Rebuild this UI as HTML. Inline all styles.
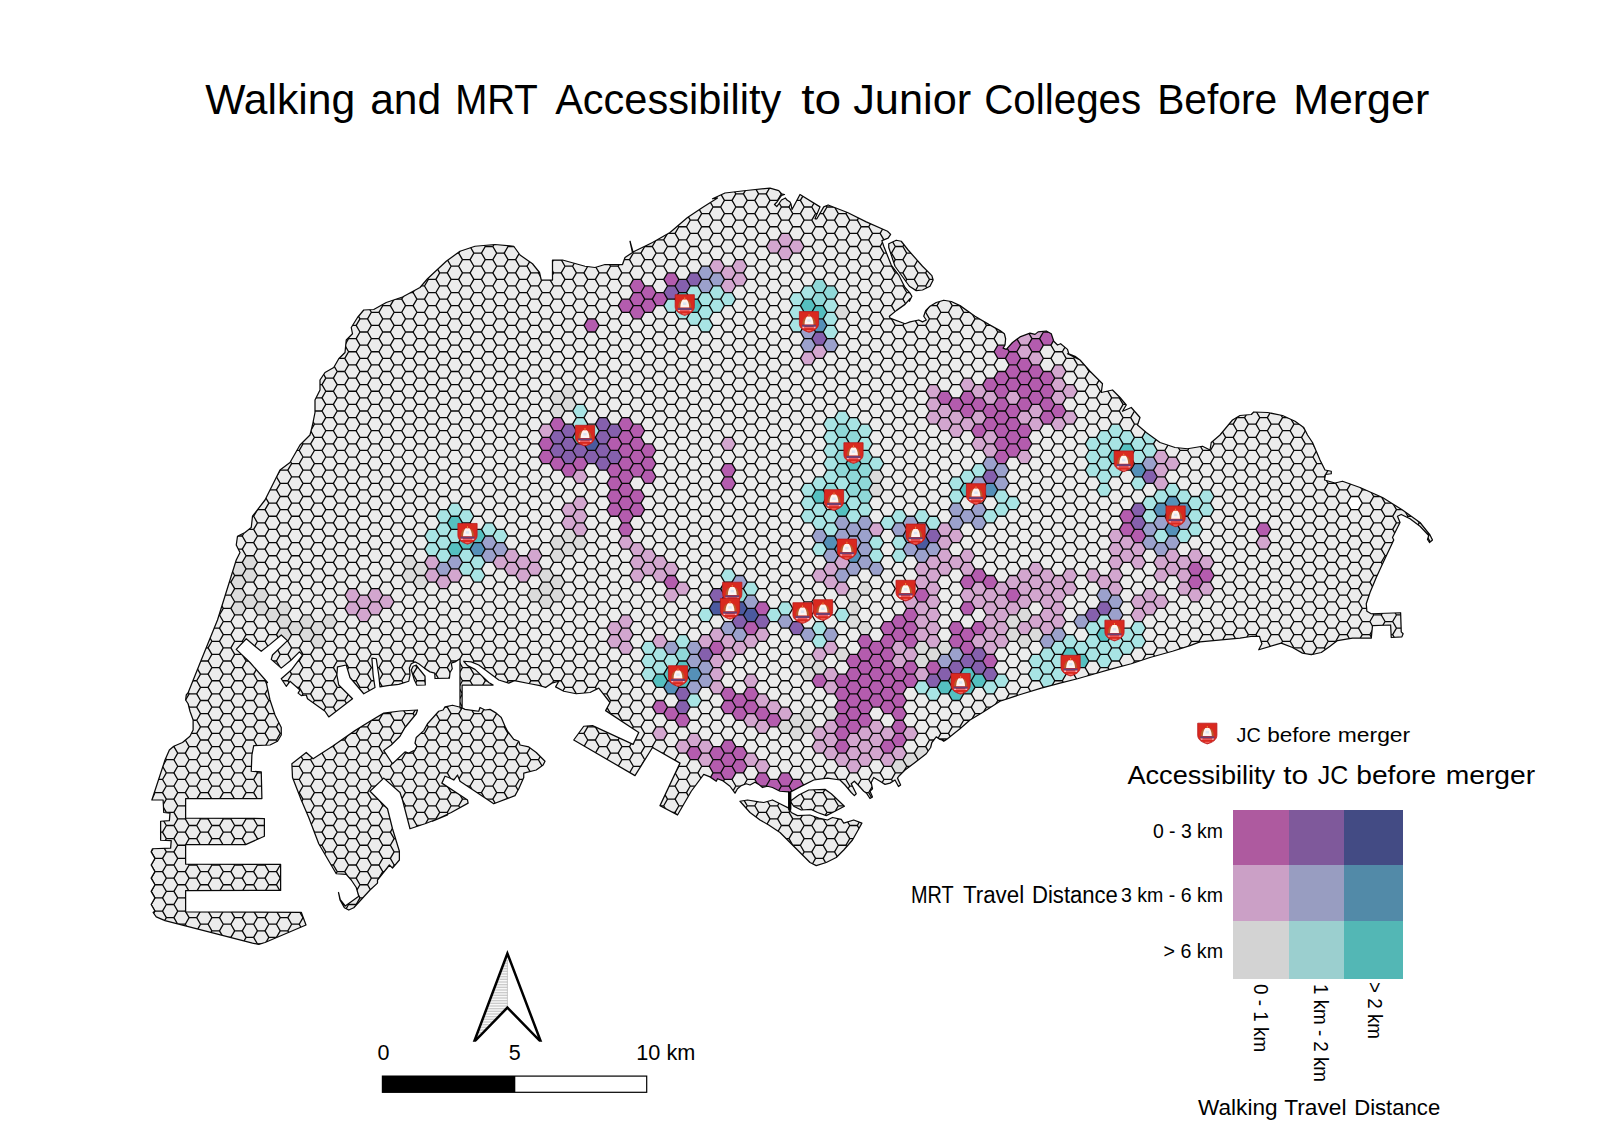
<!DOCTYPE html>
<html lang="en"><head><meta charset="utf-8"><title>Walking and MRT Accessibility to Junior Colleges Before Merger</title>
<style>
html,body{margin:0;padding:0;background:#fff}
body{width:1600px;height:1131px;overflow:hidden;font-family:"Liberation Sans",sans-serif}
svg{display:block}
text{font-family:"Liberation Sans",sans-serif;fill:#000}
</style></head><body>
<svg width="1600" height="1131" viewBox="0 0 1600 1131">
<rect width="1600" height="1131" fill="#fff"/>

<defs><clipPath id="land"><path d="M320 380L325 372.5L333.75 367.5L338.75 358.75L345 352.5L346.25 340L352.5 333.75L351.25 327.5L357.5 317.5L363.75 310L373.75 309.5L386.25 302.5L402.5 297L420 287.5L427.5 278.75L446.25 261.25L460 251.25L475 246.25L495 244.5L513.75 246.25L520 255L532.5 263.75L539.5 272.5L541.25 280L552.5 280L552.5 260L562.5 260L585 266.25L595 267.5L605 264.5L622.5 264.5L625 257.5L632.5 252.5L630 241.25L633 252L652.5 242.5L670 232.5L687.5 217.5L702.5 207.5L717.5 198L712.5 198.75L725 193L746.25 190.5L770 188.12L778.75 190.62L781.5 193.75L784.5 194.5L781.5 195.5L777 202L774.5 204.5L776.75 206.5L779 203.5L781.5 200L785.5 198L787 200L790 202L791 204L792 209.5L800 194.5L820 206.88L815 218.75L816.88 218.75L823.75 206.88L828.12 205L847.5 212.5L866.25 221.88L887.5 231.25L890.62 234.38L888.12 238.12L881.88 240.62L883.75 246.25L891.25 265L898.75 275L905 287.5L910 293.12L911.88 296.25L909.38 301.25L910 298.75L905 304.38L896.25 310.62L889.38 316.25L890 318.12L905 323.75L910 321.88L918.75 320L922.5 321.88L926.25 320L923.75 316.25L925.62 310.62L930 306.25L936.25 302.5L943.75 300.25L951.25 301.5L960 305.62L975 316.25L988.75 324.38L1000 330.62L1004.38 333.75L1005.62 338.75L1005 345L1003.12 348.12L1006.25 349.38L1012.5 342.5L1020 336.88L1030 333.12L1035 334.38L1038.12 331.88L1046.25 331L1051.25 333.75L1053.75 341.25L1057.5 345L1060.62 343.75L1067.5 349.38L1068.75 353.75L1075 356.25L1080 360L1067.5 353.75L1080 360L1090 371.25L1102.5 383.75L1101.25 392.5L1112.5 390L1120 397.5L1126.25 405L1122.5 411.25L1131.25 407.5L1140 417.5L1137.5 425L1146.25 432.5L1160 442.5L1175 447.5L1187.5 448.75L1202.5 446.25L1210 450L1211.25 442.5L1220 435L1226.25 427.5L1232.5 420L1240 415.5L1251.25 414.5L1253.75 412L1267.5 412.5L1282.5 415.5L1295 421.25L1303.75 427.5L1307.5 435L1312.5 442.5L1320 460L1325 470L1331.25 471.25L1331.25 473.75L1325.5 474.5L1324.5 480L1335 483L1342.5 481.25L1360 487.5L1382.5 497.5L1402.5 510L1420 522.5L1430 535L1432.5 540L1429.5 542.5L1427.5 539.5L1428.75 535.5L1420 526.25L1410 518.75L1401.25 514.5L1397.5 516.25L1400 522.5L1392.5 537.5L1393.75 540L1383.75 561.25L1376.25 577.5L1370 592.5L1366.25 603.75L1366.88 611.25L1371.25 613.75L1400.62 612.75L1401.25 631.88L1403.12 633.75L1401.88 636.88L1391.25 637.5L1390.62 625L1372.5 625.62L1371.25 638.12L1352.5 638.12L1337.5 640.62L1330 646.25L1321.25 652.5L1311.25 654.75L1302.5 653.12L1292.5 647.5L1281.25 643.12L1258.75 649.75L1261.88 643.75L1259.38 636.25L1252.5 636.25L1240 638.12L1200 641.88L1190 645.62L1172.5 651.25L1150 657.5L1131.25 663.75L1110 669.38L1095 673.75L1077.5 678.75L1060 683.12L1041.25 688.12L1018.75 695L1000 701.25L1000 701.25L982.5 712.5L970 720L960 728.75L947.5 738.75L943.75 741.25L940 738.75L947.5 738.75L945 740.62L940 739.38L936.25 736.88L931.88 742.5L930.62 747.5L926.25 753.75L915 762.5L905 770L898.75 776.25L897.5 778.12L900.62 785L898.5 786.5L895 780L890 783.12L885 784.38L880 781.25L873.75 777.5L871.25 782.5L872.5 788.75L870 791.25L872.5 796.88L870 798.5L866.5 793.12L863.75 791.25L858.12 785L854.38 781.25L851.25 783.75L856.25 793.75L854.38 795.62L851.25 792.5L845 785L840 780L827.5 778.12L827.5 778.12L813.75 780L802.5 785.62L790.62 791.88L790.62 808.75L788.75 808.75L788.75 791.88L780 791.25L772.5 787.5L767.5 786.25L762.5 787.5L758.75 784.38L755 782.25L750 785L746.25 783.75L741.25 785.62L737.5 788.75L735 793.12L730 786.25L722.5 780.62L717.5 778.75L716.25 781.25L710 776.88L703.75 774.38L691.25 791.25L677.5 815L660 805.62L680 763.12L652.5 747.5L635 775.62L573.75 740L583.75 726.25L592.5 725.62L633.12 744.38L638.75 732.5L605.62 710.62L610 702.5L598.75 688.12L590 692.5L576.25 693.75L563.75 691.25L555.62 686.88L558.75 681.25L551.88 683.12L545.62 687.5L540 685.62L530 683.75L514.38 680.62L508.75 683.12L498.75 680L488.75 672.5L478.75 665L471.25 661.88L463.75 661.25L467.5 665.62L475 669.38L488.75 682.5L493.12 685L462.12 685L462.12 708.12L460 708.12L460 661.88L460 658.75L455 661.88L451.25 663.12L452.25 668.75L450 672.5L449.38 678.12L435 678.5L434.75 673.12L430 671.88L424.38 668.12L418.75 663.75L415 661.88L411.25 663.75L409.38 668.12L410 675L408.75 681.25L398.75 684.38L387.5 685.62L380 686.88L380 686.88L378.75 675L376.25 658.75L371.88 658.12L373.12 675L375 687.5L363.75 693.75L350 677.5L346.25 665L337.5 666.88L336.88 675L338.75 685L352.5 698.75L328.75 716.88L325 711.25L307.5 698.75L306.25 695L301.25 695.62L298.12 693.12L300 690L290 681.25L286.25 686.25L281.25 678.75L291.25 670L302.5 655L299.38 651.88L291.25 660L281.25 668.12L271.25 659.38L272.5 655L287.5 640.62L281.25 635L270 644.38L261.25 651.25L255 646.25L246.25 638.75L236.25 649.38L250 662.5L267.5 682.5L266.25 682.5L270 700L275 715L281.25 727.5L281.25 735L277.5 741.25L270 745L253.75 745.62L251.88 755L251.25 771.25L261.25 771.88L261.88 798.12L261.88 798.5L185.62 798.5L185.62 818.12L264.38 818.5L264.38 836.25L245.62 844.62L185.62 844.62L185.62 864L280.62 864.38L280.62 890.38L185.62 890.62L185.62 911.88L185.62 911.88L301.25 912.25L306 925L265 942.5L258.75 944.38L252.5 943.12L165 920.62L156.25 916.88L153.12 912.5L154.95 911.06L151.16 904.48L154.95 897.9L151.16 891.32L154.95 884.74L151.16 878.16L154.95 871.58L151.16 865L154.95 858.42L151.16 851.84L152.5 848.75L170.62 848.12L171.25 840.62L160.62 840.25L160.62 821.25L169.38 820.62L170 813.12L163.75 812.5L163.12 800L151.88 799.75L154.38 793.75L151.88 800L165 760L169.38 750L173.75 746.25L182.5 742.5L190 736.25L193.12 730L193.12 720L190 711.25L188.12 703.75L185.62 700L186.25 695L188.12 692.75L201.25 660L217.5 620L230 580L236.25 560L240 552.5L236.25 545L237.5 536.25L245 532.5L251.25 527.5L252.5 516.25L265 500L272.5 485L280 470L290 462.5L300 445L310 435L312.5 425L315 412.5L315 400L320 390ZM888.75 243.75L896.25 240.25L901.25 241.25L908.12 250L922.5 266.25L931.88 275.62L933.12 280L930 286.25L922.5 290L916.25 290.62L909.38 286.25L901.25 275L895 266.25L888.75 247.5ZM291.88 763.75L306.25 752.5L313.12 758.75L332.5 746.25L355 730.62L370 721.25L383.75 713.12L400 711L417.5 710L416.25 713.75L405 727.5L400 736.25L391.25 745L383.75 750.62L392.5 763.75L405 751.88L408.75 753.12L415 750L416.88 746.25L415 743.12L416.25 737.5L423.75 730.62L427.5 723.75L438.75 711.25L443.12 710L445 706.88L452.5 705.25L461.25 707.5L465 709.38L473.75 710.62L478.75 711.25L480 707.5L485 710L490 709.38L496.25 713.12L501.25 717.5L505 726.25L507.5 731.25L513.75 739.38L518.75 741.25L520 745L528.75 746.88L536.25 752.5L545 761.25L543.12 765L536.25 770L523.75 773.12L523.75 777.5L518.75 788.75L515 795.62L493.75 803.75L490 801.25L460 781.25L457.5 775L453.75 780L448.75 777.5L445 776.25L441.88 783.12L467.5 800L468.12 803.12L451.25 812.5L432.5 821.25L447.5 815L425 823.75L410 828.75L402.5 800L400 792.5L383.75 778.12L370 791.25L386.25 807.5L387.5 808.75L392.5 828.75L399.38 851.25L399.38 860L392.5 868.12L389.38 865L387.5 867.5L377.5 880L377.5 883.12L370 890L353.75 907.75L348.75 910L344.38 907.75L340 900L338.5 892.5L340.25 899.75L345.25 906L358.75 896.25L356.25 887.5L351.25 880L346.25 874.38L336.25 873.75L318.75 843.75L308.75 817.5L301.25 800L292.5 777.5ZM416.25 665L420 670L425 676.25L425.25 685L416.88 685.25L414.38 680L411.25 670L413.12 666.25ZM791.25 800.62L798.75 795L808.75 790L825 789.38L831.25 793.75L844.38 806.25L835 811.25L826.25 815.62L817.5 812.5L811.25 809.38L801.25 810L793.75 806.25L790.62 801.88ZM740 801.25L747.5 800L758.75 801.88L763.75 802.5L772.5 800L780 803.75L788.75 808.12L791.25 812.5L797.5 815.62L810 815L818.75 818.12L827.5 820L832.5 817.5L841.25 819.38L843.75 823.12L853.75 820L861.88 823.12L858.12 830L852.5 840L843.75 850L836.25 857.5L826.25 862.5L816.25 865.62L810 862.5L801.25 853.75L790 842.5L780 832.5L768.75 825L760 820L750 812.5Z" clip-rule="nonzero"/></clipPath><path id="hx" d="M-7.59 0L-3.8 -6.58L3.8 -6.58L7.59 0L3.8 6.58L-3.8 6.58Z"/><path id="zz" d="M0 0h7.59m-7.59 0l-3.8 6.58l3.8 6.58h7.59m-7.59 0l-3.8 6.58l3.8 6.58h7.59m-7.59 0l-3.8 6.58l3.8 6.58h7.59m-7.59 0l-3.8 6.58l3.8 6.58h7.59m-7.59 0l-3.8 6.58l3.8 6.58h7.59m-7.59 0l-3.8 6.58l3.8 6.58h7.59m-7.59 0l-3.8 6.58l3.8 6.58h7.59m-7.59 0l-3.8 6.58l3.8 6.58h7.59m-7.59 0l-3.8 6.58l3.8 6.58h7.59m-7.59 0l-3.8 6.58l3.8 6.58h7.59m-7.59 0l-3.8 6.58l3.8 6.58h7.59m-7.59 0l-3.8 6.58l3.8 6.58h7.59m-7.59 0l-3.8 6.58l3.8 6.58h7.59m-7.59 0l-3.8 6.58l3.8 6.58h7.59m-7.59 0l-3.8 6.58l3.8 6.58h7.59m-7.59 0l-3.8 6.58l3.8 6.58h7.59m-7.59 0l-3.8 6.58l3.8 6.58h7.59m-7.59 0l-3.8 6.58l3.8 6.58h7.59m-7.59 0l-3.8 6.58l3.8 6.58h7.59m-7.59 0l-3.8 6.58l3.8 6.58h7.59m-7.59 0l-3.8 6.58l3.8 6.58h7.59m-7.59 0l-3.8 6.58l3.8 6.58h7.59m-7.59 0l-3.8 6.58l3.8 6.58h7.59m-7.59 0l-3.8 6.58l3.8 6.58h7.59m-7.59 0l-3.8 6.58l3.8 6.58h7.59m-7.59 0l-3.8 6.58l3.8 6.58h7.59m-7.59 0l-3.8 6.58l3.8 6.58h7.59m-7.59 0l-3.8 6.58l3.8 6.58h7.59m-7.59 0l-3.8 6.58l3.8 6.58h7.59m-7.59 0l-3.8 6.58l3.8 6.58h7.59m-7.59 0l-3.8 6.58l3.8 6.58h7.59m-7.59 0l-3.8 6.58l3.8 6.58h7.59m-7.59 0l-3.8 6.58l3.8 6.58h7.59m-7.59 0l-3.8 6.58l3.8 6.58h7.59m-7.59 0l-3.8 6.58l3.8 6.58h7.59m-7.59 0l-3.8 6.58l3.8 6.58h7.59m-7.59 0l-3.8 6.58l3.8 6.58h7.59m-7.59 0l-3.8 6.58l3.8 6.58h7.59m-7.59 0l-3.8 6.58l3.8 6.58h7.59m-7.59 0l-3.8 6.58l3.8 6.58h7.59m-7.59 0l-3.8 6.58l3.8 6.58h7.59m-7.59 0l-3.8 6.58l3.8 6.58h7.59m-7.59 0l-3.8 6.58l3.8 6.58h7.59m-7.59 0l-3.8 6.58l3.8 6.58h7.59m-7.59 0l-3.8 6.58l3.8 6.58h7.59m-7.59 0l-3.8 6.58l3.8 6.58h7.59m-7.59 0l-3.8 6.58l3.8 6.58h7.59m-7.59 0l-3.8 6.58l3.8 6.58h7.59m-7.59 0l-3.8 6.58l3.8 6.58h7.59m-7.59 0l-3.8 6.58l3.8 6.58h7.59m-7.59 0l-3.8 6.58l3.8 6.58h7.59m-7.59 0l-3.8 6.58l3.8 6.58h7.59m-7.59 0l-3.8 6.58l3.8 6.58h7.59m-7.59 0l-3.8 6.58l3.8 6.58h7.59m-7.59 0l-3.8 6.58l3.8 6.58h7.59m-7.59 0l-3.8 6.58l3.8 6.58h7.59m-7.59 0l-3.8 6.58l3.8 6.58h7.59m-7.59 0l-3.8 6.58l3.8 6.58h7.59m-7.59 0l-3.8 6.58l3.8 6.58h7.59m-7.59 0l-3.8 6.58l3.8 6.58h7.59m-7.59 0l-3.8 6.58l3.8 6.58"/>
<g id="jc"><path d="M-9.6 -10.3H9.6V1.6C9.6 6.4 5.2 8.9 0 10.4C-5.2 8.9 -9.6 6.4 -9.6 1.6Z" fill="#d9291f" stroke="#b9191d" stroke-width="0.8"/>
<path d="M-6.6 2.4C-6.4 -1.2 -5.2 -3.6 -3.6 -4.9L-2.2 -3.6C-3.6 -2 -4.2 0 -4.3 2.4ZM6.6 2.4C6.4 -1.2 5.2 -3.6 3.6 -4.9L2.2 -3.6C3.6 -2 4.2 0 4.3 2.4Z" fill="#b85a2a"/>
<path d="M-4.5 2.5C-4.3 -1.6 -3 -4.6 -1.9 -5.4H1.9C3 -4.6 4.3 -1.6 4.5 2.5Z" fill="#fdf4ef"/>
<path d="M-0.5 -7.6H0.5V-5.4H-0.5Z" fill="#e8873a"/>
<rect x="-1.7" y="-2.6" width="3.4" height="2.6" fill="#dde6f2"/>
<path d="M-7 2.9H7V4.9H-7Z" fill="#6b3f74"/><path d="M-7 4.9H-4.6V6.3H-6.2ZM7 4.9H4.6V6.3H6.2Z" fill="#f6b4c0"/><path d="M-4.6 5.2H4.6V6.2H-4.6Z" fill="#ef6a72"/>
<path d="M-2.8 8.2H2.8L1.6 9.4H-1.6Z" fill="#f0625a"/></g>
</defs>

<g clip-path="url(#land)">
<rect x="140" y="170" width="1320" height="790" fill="#ececec"/>
<g fill="#dbdbdb">
<use href="#hx" x="238.48" y="568.9"/>
<use href="#hx" x="238.48" y="582.06"/>
<use href="#hx" x="238.48" y="595.22"/>
<use href="#hx" x="238.48" y="608.38"/>
<use href="#hx" x="249.87" y="562.32"/>
<use href="#hx" x="249.87" y="575.48"/>
<use href="#hx" x="249.87" y="601.8"/>
<use href="#hx" x="261.26" y="595.22"/>
<use href="#hx" x="261.26" y="608.38"/>
<use href="#hx" x="272.65" y="614.96"/>
<use href="#hx" x="284.04" y="608.38"/>
<use href="#hx" x="284.04" y="621.54"/>
<use href="#hx" x="284.04" y="634.7"/>
<use href="#hx" x="295.43" y="628.12"/>
<use href="#hx" x="306.82" y="621.54"/>
<use href="#hx" x="306.82" y="634.7"/>
<use href="#hx" x="318.21" y="628.12"/>
<use href="#hx" x="318.21" y="641.28"/>
<use href="#hx" x="329.6" y="621.54"/>
<use href="#hx" x="409.33" y="562.32"/>
<use href="#hx" x="409.33" y="575.48"/>
<use href="#hx" x="420.72" y="568.9"/>
<use href="#hx" x="420.72" y="582.06"/>
<use href="#hx" x="534.62" y="595.22"/>
<use href="#hx" x="546.01" y="575.48"/>
<use href="#hx" x="546.01" y="588.64"/>
<use href="#hx" x="546.01" y="601.8"/>
<use href="#hx" x="557.4" y="397.82"/>
<use href="#hx" x="557.4" y="410.98"/>
<use href="#hx" x="557.4" y="542.58"/>
<use href="#hx" x="557.4" y="555.74"/>
<use href="#hx" x="557.4" y="582.06"/>
<use href="#hx" x="557.4" y="595.22"/>
<use href="#hx" x="568.79" y="391.24"/>
<use href="#hx" x="568.79" y="404.4"/>
<use href="#hx" x="568.79" y="536"/>
<use href="#hx" x="568.79" y="549.16"/>
<use href="#hx" x="580.18" y="542.58"/>
<use href="#hx" x="785.2" y="726.82"/>
<use href="#hx" x="796.59" y="720.24"/>
<use href="#hx" x="796.59" y="733.4"/>
<use href="#hx" x="807.98" y="661.02"/>
<use href="#hx" x="807.98" y="674.18"/>
<use href="#hx" x="807.98" y="713.66"/>
<use href="#hx" x="807.98" y="726.82"/>
<use href="#hx" x="819.37" y="667.6"/>
<use href="#hx" x="830.76" y="713.66"/>
<use href="#hx" x="842.15" y="312.28"/>
<use href="#hx" x="842.15" y="654.44"/>
<use href="#hx" x="853.54" y="595.22"/>
<use href="#hx" x="853.54" y="608.38"/>
<use href="#hx" x="853.54" y="621.54"/>
<use href="#hx" x="864.93" y="588.64"/>
<use href="#hx" x="864.93" y="628.12"/>
<use href="#hx" x="876.32" y="476.78"/>
<use href="#hx" x="876.32" y="489.94"/>
<use href="#hx" x="899.1" y="766.3"/>
<use href="#hx" x="910.49" y="759.72"/>
<use href="#hx" x="921.88" y="647.86"/>
<use href="#hx" x="921.88" y="661.02"/>
<use href="#hx" x="921.88" y="753.14"/>
<use href="#hx" x="933.27" y="654.44"/>
<use href="#hx" x="944.66" y="647.86"/>
<use href="#hx" x="1013" y="621.54"/>
<use href="#hx" x="1013" y="634.7"/>
<use href="#hx" x="1024.39" y="614.96"/>
<use href="#hx" x="1024.39" y="641.28"/>
<use href="#hx" x="1035.78" y="634.7"/>
</g>
<g fill="#d3a6cf">
<use href="#hx" x="352.38" y="595.22"/>
<use href="#hx" x="352.38" y="608.38"/>
<use href="#hx" x="363.77" y="601.8"/>
<use href="#hx" x="363.77" y="614.96"/>
<use href="#hx" x="375.16" y="595.22"/>
<use href="#hx" x="375.16" y="608.38"/>
<use href="#hx" x="386.55" y="601.8"/>
<use href="#hx" x="432.11" y="562.32"/>
<use href="#hx" x="432.11" y="575.48"/>
<use href="#hx" x="443.5" y="582.06"/>
<use href="#hx" x="454.89" y="575.48"/>
<use href="#hx" x="500.45" y="562.32"/>
<use href="#hx" x="511.84" y="555.74"/>
<use href="#hx" x="511.84" y="568.9"/>
<use href="#hx" x="523.23" y="562.32"/>
<use href="#hx" x="523.23" y="575.48"/>
<use href="#hx" x="534.62" y="555.74"/>
<use href="#hx" x="534.62" y="568.9"/>
<use href="#hx" x="546.01" y="430.72"/>
<use href="#hx" x="568.79" y="509.68"/>
<use href="#hx" x="568.79" y="522.84"/>
<use href="#hx" x="580.18" y="476.78"/>
<use href="#hx" x="580.18" y="503.1"/>
<use href="#hx" x="580.18" y="516.26"/>
<use href="#hx" x="580.18" y="529.42"/>
<use href="#hx" x="614.35" y="628.12"/>
<use href="#hx" x="614.35" y="641.28"/>
<use href="#hx" x="625.74" y="542.58"/>
<use href="#hx" x="625.74" y="621.54"/>
<use href="#hx" x="625.74" y="634.7"/>
<use href="#hx" x="625.74" y="647.86"/>
<use href="#hx" x="637.13" y="549.16"/>
<use href="#hx" x="637.13" y="562.32"/>
<use href="#hx" x="637.13" y="575.48"/>
<use href="#hx" x="648.52" y="555.74"/>
<use href="#hx" x="648.52" y="568.9"/>
<use href="#hx" x="659.91" y="562.32"/>
<use href="#hx" x="659.91" y="575.48"/>
<use href="#hx" x="659.91" y="641.28"/>
<use href="#hx" x="659.91" y="733.4"/>
<use href="#hx" x="671.3" y="568.9"/>
<use href="#hx" x="671.3" y="595.22"/>
<use href="#hx" x="682.69" y="588.64"/>
<use href="#hx" x="682.69" y="746.56"/>
<use href="#hx" x="694.08" y="739.98"/>
<use href="#hx" x="705.47" y="641.28"/>
<use href="#hx" x="705.47" y="746.56"/>
<use href="#hx" x="705.47" y="759.72"/>
<use href="#hx" x="716.86" y="266.22"/>
<use href="#hx" x="716.86" y="634.7"/>
<use href="#hx" x="716.86" y="661.02"/>
<use href="#hx" x="716.86" y="674.18"/>
<use href="#hx" x="716.86" y="687.34"/>
<use href="#hx" x="728.25" y="272.8"/>
<use href="#hx" x="728.25" y="285.96"/>
<use href="#hx" x="728.25" y="443.88"/>
<use href="#hx" x="728.25" y="641.28"/>
<use href="#hx" x="728.25" y="654.44"/>
<use href="#hx" x="739.64" y="266.22"/>
<use href="#hx" x="739.64" y="279.38"/>
<use href="#hx" x="739.64" y="647.86"/>
<use href="#hx" x="751.03" y="641.28"/>
<use href="#hx" x="751.03" y="680.76"/>
<use href="#hx" x="751.03" y="720.24"/>
<use href="#hx" x="751.03" y="759.72"/>
<use href="#hx" x="762.42" y="634.7"/>
<use href="#hx" x="762.42" y="700.5"/>
<use href="#hx" x="762.42" y="726.82"/>
<use href="#hx" x="762.42" y="766.3"/>
<use href="#hx" x="773.81" y="246.48"/>
<use href="#hx" x="773.81" y="707.08"/>
<use href="#hx" x="785.2" y="239.9"/>
<use href="#hx" x="785.2" y="253.06"/>
<use href="#hx" x="785.2" y="713.66"/>
<use href="#hx" x="796.59" y="246.48"/>
<use href="#hx" x="807.98" y="358.34"/>
<use href="#hx" x="819.37" y="351.76"/>
<use href="#hx" x="819.37" y="575.48"/>
<use href="#hx" x="819.37" y="654.44"/>
<use href="#hx" x="819.37" y="733.4"/>
<use href="#hx" x="819.37" y="746.56"/>
<use href="#hx" x="830.76" y="568.9"/>
<use href="#hx" x="830.76" y="582.06"/>
<use href="#hx" x="830.76" y="647.86"/>
<use href="#hx" x="830.76" y="674.18"/>
<use href="#hx" x="830.76" y="687.34"/>
<use href="#hx" x="830.76" y="726.82"/>
<use href="#hx" x="830.76" y="739.98"/>
<use href="#hx" x="830.76" y="753.14"/>
<use href="#hx" x="842.15" y="562.32"/>
<use href="#hx" x="842.15" y="588.64"/>
<use href="#hx" x="842.15" y="759.72"/>
<use href="#hx" x="853.54" y="739.98"/>
<use href="#hx" x="853.54" y="753.14"/>
<use href="#hx" x="853.54" y="766.3"/>
<use href="#hx" x="864.93" y="733.4"/>
<use href="#hx" x="864.93" y="746.56"/>
<use href="#hx" x="864.93" y="759.72"/>
<use href="#hx" x="876.32" y="529.42"/>
<use href="#hx" x="876.32" y="726.82"/>
<use href="#hx" x="876.32" y="739.98"/>
<use href="#hx" x="876.32" y="753.14"/>
<use href="#hx" x="887.71" y="733.4"/>
<use href="#hx" x="887.71" y="759.72"/>
<use href="#hx" x="899.1" y="647.86"/>
<use href="#hx" x="899.1" y="661.02"/>
<use href="#hx" x="899.1" y="753.14"/>
<use href="#hx" x="910.49" y="601.8"/>
<use href="#hx" x="910.49" y="654.44"/>
<use href="#hx" x="910.49" y="733.4"/>
<use href="#hx" x="921.88" y="568.9"/>
<use href="#hx" x="921.88" y="582.06"/>
<use href="#hx" x="921.88" y="608.38"/>
<use href="#hx" x="921.88" y="621.54"/>
<use href="#hx" x="921.88" y="634.7"/>
<use href="#hx" x="921.88" y="674.18"/>
<use href="#hx" x="933.27" y="391.24"/>
<use href="#hx" x="933.27" y="404.4"/>
<use href="#hx" x="933.27" y="417.56"/>
<use href="#hx" x="933.27" y="562.32"/>
<use href="#hx" x="933.27" y="575.48"/>
<use href="#hx" x="933.27" y="588.64"/>
<use href="#hx" x="933.27" y="601.8"/>
<use href="#hx" x="933.27" y="614.96"/>
<use href="#hx" x="933.27" y="628.12"/>
<use href="#hx" x="933.27" y="641.28"/>
<use href="#hx" x="944.66" y="410.98"/>
<use href="#hx" x="944.66" y="424.14"/>
<use href="#hx" x="944.66" y="529.42"/>
<use href="#hx" x="944.66" y="542.58"/>
<use href="#hx" x="944.66" y="555.74"/>
<use href="#hx" x="944.66" y="568.9"/>
<use href="#hx" x="956.05" y="417.56"/>
<use href="#hx" x="956.05" y="430.72"/>
<use href="#hx" x="956.05" y="536"/>
<use href="#hx" x="956.05" y="562.32"/>
<use href="#hx" x="967.44" y="384.66"/>
<use href="#hx" x="967.44" y="424.14"/>
<use href="#hx" x="967.44" y="555.74"/>
<use href="#hx" x="967.44" y="568.9"/>
<use href="#hx" x="967.44" y="595.22"/>
<use href="#hx" x="978.83" y="391.24"/>
<use href="#hx" x="978.83" y="417.56"/>
<use href="#hx" x="978.83" y="443.88"/>
<use href="#hx" x="978.83" y="588.64"/>
<use href="#hx" x="978.83" y="601.8"/>
<use href="#hx" x="978.83" y="641.28"/>
<use href="#hx" x="990.22" y="397.82"/>
<use href="#hx" x="990.22" y="437.3"/>
<use href="#hx" x="990.22" y="450.46"/>
<use href="#hx" x="990.22" y="595.22"/>
<use href="#hx" x="990.22" y="608.38"/>
<use href="#hx" x="990.22" y="621.54"/>
<use href="#hx" x="990.22" y="634.7"/>
<use href="#hx" x="990.22" y="647.86"/>
<use href="#hx" x="1001.61" y="588.64"/>
<use href="#hx" x="1001.61" y="601.8"/>
<use href="#hx" x="1001.61" y="614.96"/>
<use href="#hx" x="1001.61" y="628.12"/>
<use href="#hx" x="1001.61" y="641.28"/>
<use href="#hx" x="1013" y="397.82"/>
<use href="#hx" x="1013" y="582.06"/>
<use href="#hx" x="1013" y="608.38"/>
<use href="#hx" x="1024.39" y="338.6"/>
<use href="#hx" x="1024.39" y="351.76"/>
<use href="#hx" x="1024.39" y="417.56"/>
<use href="#hx" x="1024.39" y="457.04"/>
<use href="#hx" x="1024.39" y="575.48"/>
<use href="#hx" x="1024.39" y="588.64"/>
<use href="#hx" x="1024.39" y="601.8"/>
<use href="#hx" x="1024.39" y="628.12"/>
<use href="#hx" x="1035.78" y="332.02"/>
<use href="#hx" x="1035.78" y="358.34"/>
<use href="#hx" x="1035.78" y="410.98"/>
<use href="#hx" x="1035.78" y="424.14"/>
<use href="#hx" x="1035.78" y="568.9"/>
<use href="#hx" x="1035.78" y="582.06"/>
<use href="#hx" x="1035.78" y="595.22"/>
<use href="#hx" x="1035.78" y="621.54"/>
<use href="#hx" x="1047.17" y="575.48"/>
<use href="#hx" x="1047.17" y="588.64"/>
<use href="#hx" x="1047.17" y="601.8"/>
<use href="#hx" x="1047.17" y="614.96"/>
<use href="#hx" x="1047.17" y="628.12"/>
<use href="#hx" x="1058.56" y="371.5"/>
<use href="#hx" x="1058.56" y="384.66"/>
<use href="#hx" x="1058.56" y="397.82"/>
<use href="#hx" x="1058.56" y="424.14"/>
<use href="#hx" x="1058.56" y="582.06"/>
<use href="#hx" x="1058.56" y="595.22"/>
<use href="#hx" x="1058.56" y="608.38"/>
<use href="#hx" x="1058.56" y="621.54"/>
<use href="#hx" x="1069.95" y="391.24"/>
<use href="#hx" x="1069.95" y="417.56"/>
<use href="#hx" x="1069.95" y="575.48"/>
<use href="#hx" x="1069.95" y="588.64"/>
<use href="#hx" x="1092.73" y="575.48"/>
<use href="#hx" x="1104.12" y="582.06"/>
<use href="#hx" x="1115.51" y="536"/>
<use href="#hx" x="1115.51" y="549.16"/>
<use href="#hx" x="1115.51" y="562.32"/>
<use href="#hx" x="1115.51" y="575.48"/>
<use href="#hx" x="1115.51" y="588.64"/>
<use href="#hx" x="1126.9" y="542.58"/>
<use href="#hx" x="1126.9" y="555.74"/>
<use href="#hx" x="1138.29" y="549.16"/>
<use href="#hx" x="1138.29" y="562.32"/>
<use href="#hx" x="1138.29" y="601.8"/>
<use href="#hx" x="1138.29" y="614.96"/>
<use href="#hx" x="1149.68" y="595.22"/>
<use href="#hx" x="1149.68" y="608.38"/>
<use href="#hx" x="1161.07" y="457.04"/>
<use href="#hx" x="1161.07" y="470.2"/>
<use href="#hx" x="1161.07" y="483.36"/>
<use href="#hx" x="1161.07" y="562.32"/>
<use href="#hx" x="1161.07" y="575.48"/>
<use href="#hx" x="1161.07" y="601.8"/>
<use href="#hx" x="1172.46" y="463.62"/>
<use href="#hx" x="1172.46" y="555.74"/>
<use href="#hx" x="1172.46" y="568.9"/>
<use href="#hx" x="1183.85" y="562.32"/>
<use href="#hx" x="1183.85" y="575.48"/>
<use href="#hx" x="1183.85" y="588.64"/>
<use href="#hx" x="1195.24" y="555.74"/>
<use href="#hx" x="1195.24" y="595.22"/>
<use href="#hx" x="1206.63" y="562.32"/>
<use href="#hx" x="1206.63" y="588.64"/>
<use href="#hx" x="1263.58" y="542.58"/>
</g>
<g fill="#a8e4e4">
<use href="#hx" x="432.11" y="536"/>
<use href="#hx" x="432.11" y="549.16"/>
<use href="#hx" x="443.5" y="516.26"/>
<use href="#hx" x="443.5" y="529.42"/>
<use href="#hx" x="443.5" y="542.58"/>
<use href="#hx" x="443.5" y="555.74"/>
<use href="#hx" x="454.89" y="509.68"/>
<use href="#hx" x="454.89" y="536"/>
<use href="#hx" x="466.28" y="516.26"/>
<use href="#hx" x="466.28" y="555.74"/>
<use href="#hx" x="466.28" y="568.9"/>
<use href="#hx" x="477.67" y="562.32"/>
<use href="#hx" x="477.67" y="575.48"/>
<use href="#hx" x="489.06" y="529.42"/>
<use href="#hx" x="500.45" y="536"/>
<use href="#hx" x="580.18" y="410.98"/>
<use href="#hx" x="580.18" y="424.14"/>
<use href="#hx" x="591.57" y="430.72"/>
<use href="#hx" x="648.52" y="647.86"/>
<use href="#hx" x="648.52" y="661.02"/>
<use href="#hx" x="648.52" y="674.18"/>
<use href="#hx" x="659.91" y="654.44"/>
<use href="#hx" x="659.91" y="667.6"/>
<use href="#hx" x="671.3" y="305.7"/>
<use href="#hx" x="671.3" y="661.02"/>
<use href="#hx" x="682.69" y="312.28"/>
<use href="#hx" x="682.69" y="641.28"/>
<use href="#hx" x="694.08" y="292.54"/>
<use href="#hx" x="694.08" y="318.86"/>
<use href="#hx" x="694.08" y="700.5"/>
<use href="#hx" x="705.47" y="299.12"/>
<use href="#hx" x="705.47" y="312.28"/>
<use href="#hx" x="705.47" y="325.44"/>
<use href="#hx" x="705.47" y="614.96"/>
<use href="#hx" x="716.86" y="292.54"/>
<use href="#hx" x="716.86" y="305.7"/>
<use href="#hx" x="728.25" y="299.12"/>
<use href="#hx" x="728.25" y="575.48"/>
<use href="#hx" x="751.03" y="588.64"/>
<use href="#hx" x="773.81" y="614.96"/>
<use href="#hx" x="785.2" y="608.38"/>
<use href="#hx" x="796.59" y="299.12"/>
<use href="#hx" x="796.59" y="312.28"/>
<use href="#hx" x="796.59" y="325.44"/>
<use href="#hx" x="807.98" y="292.54"/>
<use href="#hx" x="807.98" y="489.94"/>
<use href="#hx" x="807.98" y="503.1"/>
<use href="#hx" x="807.98" y="516.26"/>
<use href="#hx" x="819.37" y="483.36"/>
<use href="#hx" x="819.37" y="509.68"/>
<use href="#hx" x="819.37" y="522.84"/>
<use href="#hx" x="819.37" y="549.16"/>
<use href="#hx" x="819.37" y="628.12"/>
<use href="#hx" x="819.37" y="641.28"/>
<use href="#hx" x="830.76" y="305.7"/>
<use href="#hx" x="830.76" y="318.86"/>
<use href="#hx" x="830.76" y="332.02"/>
<use href="#hx" x="830.76" y="424.14"/>
<use href="#hx" x="830.76" y="437.3"/>
<use href="#hx" x="830.76" y="450.46"/>
<use href="#hx" x="830.76" y="463.62"/>
<use href="#hx" x="830.76" y="476.78"/>
<use href="#hx" x="830.76" y="516.26"/>
<use href="#hx" x="830.76" y="529.42"/>
<use href="#hx" x="842.15" y="417.56"/>
<use href="#hx" x="842.15" y="483.36"/>
<use href="#hx" x="842.15" y="496.52"/>
<use href="#hx" x="842.15" y="614.96"/>
<use href="#hx" x="853.54" y="424.14"/>
<use href="#hx" x="853.54" y="503.1"/>
<use href="#hx" x="853.54" y="516.26"/>
<use href="#hx" x="864.93" y="430.72"/>
<use href="#hx" x="864.93" y="443.88"/>
<use href="#hx" x="864.93" y="509.68"/>
<use href="#hx" x="876.32" y="463.62"/>
<use href="#hx" x="876.32" y="542.58"/>
<use href="#hx" x="876.32" y="555.74"/>
<use href="#hx" x="887.71" y="522.84"/>
<use href="#hx" x="899.1" y="516.26"/>
<use href="#hx" x="899.1" y="542.58"/>
<use href="#hx" x="899.1" y="555.74"/>
<use href="#hx" x="921.88" y="516.26"/>
<use href="#hx" x="921.88" y="687.34"/>
<use href="#hx" x="933.27" y="522.84"/>
<use href="#hx" x="933.27" y="693.92"/>
<use href="#hx" x="956.05" y="483.36"/>
<use href="#hx" x="956.05" y="496.52"/>
<use href="#hx" x="967.44" y="476.78"/>
<use href="#hx" x="978.83" y="470.2"/>
<use href="#hx" x="990.22" y="516.26"/>
<use href="#hx" x="990.22" y="687.34"/>
<use href="#hx" x="1001.61" y="496.52"/>
<use href="#hx" x="1001.61" y="509.68"/>
<use href="#hx" x="1001.61" y="680.76"/>
<use href="#hx" x="1013" y="503.1"/>
<use href="#hx" x="1035.78" y="661.02"/>
<use href="#hx" x="1035.78" y="674.18"/>
<use href="#hx" x="1047.17" y="654.44"/>
<use href="#hx" x="1047.17" y="667.6"/>
<use href="#hx" x="1047.17" y="680.76"/>
<use href="#hx" x="1058.56" y="647.86"/>
<use href="#hx" x="1058.56" y="661.02"/>
<use href="#hx" x="1058.56" y="674.18"/>
<use href="#hx" x="1069.95" y="641.28"/>
<use href="#hx" x="1081.34" y="647.86"/>
<use href="#hx" x="1092.73" y="443.88"/>
<use href="#hx" x="1092.73" y="457.04"/>
<use href="#hx" x="1092.73" y="470.2"/>
<use href="#hx" x="1092.73" y="628.12"/>
<use href="#hx" x="1092.73" y="641.28"/>
<use href="#hx" x="1092.73" y="654.44"/>
<use href="#hx" x="1104.12" y="437.3"/>
<use href="#hx" x="1104.12" y="450.46"/>
<use href="#hx" x="1104.12" y="463.62"/>
<use href="#hx" x="1104.12" y="476.78"/>
<use href="#hx" x="1104.12" y="489.94"/>
<use href="#hx" x="1104.12" y="621.54"/>
<use href="#hx" x="1104.12" y="647.86"/>
<use href="#hx" x="1104.12" y="661.02"/>
<use href="#hx" x="1115.51" y="430.72"/>
<use href="#hx" x="1115.51" y="443.88"/>
<use href="#hx" x="1115.51" y="470.2"/>
<use href="#hx" x="1115.51" y="641.28"/>
<use href="#hx" x="1115.51" y="654.44"/>
<use href="#hx" x="1126.9" y="437.3"/>
<use href="#hx" x="1126.9" y="634.7"/>
<use href="#hx" x="1126.9" y="647.86"/>
<use href="#hx" x="1138.29" y="443.88"/>
<use href="#hx" x="1138.29" y="457.04"/>
<use href="#hx" x="1138.29" y="483.36"/>
<use href="#hx" x="1138.29" y="628.12"/>
<use href="#hx" x="1138.29" y="641.28"/>
<use href="#hx" x="1149.68" y="437.3"/>
<use href="#hx" x="1149.68" y="450.46"/>
<use href="#hx" x="1149.68" y="503.1"/>
<use href="#hx" x="1149.68" y="516.26"/>
<use href="#hx" x="1161.07" y="496.52"/>
<use href="#hx" x="1161.07" y="536"/>
<use href="#hx" x="1172.46" y="489.94"/>
<use href="#hx" x="1183.85" y="496.52"/>
<use href="#hx" x="1183.85" y="536"/>
<use href="#hx" x="1195.24" y="503.1"/>
<use href="#hx" x="1195.24" y="516.26"/>
<use href="#hx" x="1195.24" y="529.42"/>
<use href="#hx" x="1206.63" y="496.52"/>
<use href="#hx" x="1206.63" y="509.68"/>
</g>
<g fill="#9ba1cc">
<use href="#hx" x="443.5" y="568.9"/>
<use href="#hx" x="454.89" y="562.32"/>
<use href="#hx" x="489.06" y="542.58"/>
<use href="#hx" x="489.06" y="555.74"/>
<use href="#hx" x="500.45" y="549.16"/>
<use href="#hx" x="671.3" y="647.86"/>
<use href="#hx" x="694.08" y="647.86"/>
<use href="#hx" x="694.08" y="661.02"/>
<use href="#hx" x="694.08" y="687.34"/>
<use href="#hx" x="705.47" y="272.8"/>
<use href="#hx" x="705.47" y="285.96"/>
<use href="#hx" x="705.47" y="667.6"/>
<use href="#hx" x="705.47" y="680.76"/>
<use href="#hx" x="716.86" y="279.38"/>
<use href="#hx" x="728.25" y="628.12"/>
<use href="#hx" x="739.64" y="582.06"/>
<use href="#hx" x="739.64" y="634.7"/>
<use href="#hx" x="751.03" y="601.8"/>
<use href="#hx" x="785.2" y="621.54"/>
<use href="#hx" x="807.98" y="332.02"/>
<use href="#hx" x="807.98" y="345.18"/>
<use href="#hx" x="807.98" y="634.7"/>
<use href="#hx" x="819.37" y="536"/>
<use href="#hx" x="830.76" y="345.18"/>
<use href="#hx" x="830.76" y="555.74"/>
<use href="#hx" x="830.76" y="634.7"/>
<use href="#hx" x="842.15" y="522.84"/>
<use href="#hx" x="842.15" y="536"/>
<use href="#hx" x="842.15" y="575.48"/>
<use href="#hx" x="853.54" y="529.42"/>
<use href="#hx" x="853.54" y="542.58"/>
<use href="#hx" x="853.54" y="568.9"/>
<use href="#hx" x="864.93" y="522.84"/>
<use href="#hx" x="864.93" y="536"/>
<use href="#hx" x="864.93" y="549.16"/>
<use href="#hx" x="864.93" y="562.32"/>
<use href="#hx" x="876.32" y="568.9"/>
<use href="#hx" x="899.1" y="529.42"/>
<use href="#hx" x="910.49" y="522.84"/>
<use href="#hx" x="910.49" y="549.16"/>
<use href="#hx" x="921.88" y="529.42"/>
<use href="#hx" x="921.88" y="555.74"/>
<use href="#hx" x="933.27" y="549.16"/>
<use href="#hx" x="944.66" y="661.02"/>
<use href="#hx" x="956.05" y="509.68"/>
<use href="#hx" x="956.05" y="522.84"/>
<use href="#hx" x="956.05" y="654.44"/>
<use href="#hx" x="967.44" y="516.26"/>
<use href="#hx" x="978.83" y="483.36"/>
<use href="#hx" x="978.83" y="509.68"/>
<use href="#hx" x="978.83" y="522.84"/>
<use href="#hx" x="990.22" y="463.62"/>
<use href="#hx" x="1001.61" y="470.2"/>
<use href="#hx" x="1001.61" y="483.36"/>
<use href="#hx" x="1047.17" y="641.28"/>
<use href="#hx" x="1058.56" y="634.7"/>
<use href="#hx" x="1081.34" y="621.54"/>
<use href="#hx" x="1104.12" y="595.22"/>
<use href="#hx" x="1115.51" y="601.8"/>
<use href="#hx" x="1115.51" y="614.96"/>
<use href="#hx" x="1149.68" y="463.62"/>
<use href="#hx" x="1149.68" y="529.42"/>
<use href="#hx" x="1149.68" y="542.58"/>
<use href="#hx" x="1161.07" y="522.84"/>
<use href="#hx" x="1161.07" y="549.16"/>
<use href="#hx" x="1172.46" y="542.58"/>
<use href="#hx" x="1183.85" y="522.84"/>
</g>
<g fill="#55c0c0">
<use href="#hx" x="454.89" y="522.84"/>
<use href="#hx" x="454.89" y="549.16"/>
<use href="#hx" x="466.28" y="529.42"/>
<use href="#hx" x="466.28" y="542.58"/>
<use href="#hx" x="477.67" y="536"/>
<use href="#hx" x="580.18" y="437.3"/>
<use href="#hx" x="659.91" y="680.76"/>
<use href="#hx" x="671.3" y="674.18"/>
<use href="#hx" x="682.69" y="299.12"/>
<use href="#hx" x="682.69" y="667.6"/>
<use href="#hx" x="682.69" y="680.76"/>
<use href="#hx" x="694.08" y="305.7"/>
<use href="#hx" x="728.25" y="588.64"/>
<use href="#hx" x="807.98" y="305.7"/>
<use href="#hx" x="807.98" y="318.86"/>
<use href="#hx" x="819.37" y="312.28"/>
<use href="#hx" x="819.37" y="496.52"/>
<use href="#hx" x="842.15" y="509.68"/>
<use href="#hx" x="853.54" y="450.46"/>
<use href="#hx" x="853.54" y="463.62"/>
<use href="#hx" x="944.66" y="687.34"/>
<use href="#hx" x="956.05" y="680.76"/>
<use href="#hx" x="956.05" y="693.92"/>
<use href="#hx" x="967.44" y="489.94"/>
<use href="#hx" x="967.44" y="674.18"/>
<use href="#hx" x="967.44" y="687.34"/>
<use href="#hx" x="978.83" y="680.76"/>
<use href="#hx" x="1069.95" y="654.44"/>
<use href="#hx" x="1069.95" y="667.6"/>
<use href="#hx" x="1081.34" y="661.02"/>
<use href="#hx" x="1104.12" y="634.7"/>
<use href="#hx" x="1115.51" y="457.04"/>
<use href="#hx" x="1115.51" y="628.12"/>
<use href="#hx" x="1126.9" y="450.46"/>
<use href="#hx" x="1126.9" y="463.62"/>
</g>
<g fill="#5590b8">
<use href="#hx" x="477.67" y="549.16"/>
<use href="#hx" x="671.3" y="687.34"/>
<use href="#hx" x="694.08" y="674.18"/>
<use href="#hx" x="819.37" y="325.44"/>
<use href="#hx" x="830.76" y="542.58"/>
<use href="#hx" x="842.15" y="549.16"/>
<use href="#hx" x="853.54" y="555.74"/>
<use href="#hx" x="910.49" y="536"/>
<use href="#hx" x="990.22" y="489.94"/>
<use href="#hx" x="1138.29" y="470.2"/>
<use href="#hx" x="1161.07" y="509.68"/>
<use href="#hx" x="1172.46" y="503.1"/>
<use href="#hx" x="1172.46" y="516.26"/>
<use href="#hx" x="1172.46" y="529.42"/>
<use href="#hx" x="1183.85" y="509.68"/>
</g>
<g fill="#b45cae">
<use href="#hx" x="546.01" y="443.88"/>
<use href="#hx" x="546.01" y="457.04"/>
<use href="#hx" x="557.4" y="424.14"/>
<use href="#hx" x="557.4" y="463.62"/>
<use href="#hx" x="568.79" y="470.2"/>
<use href="#hx" x="580.18" y="463.62"/>
<use href="#hx" x="591.57" y="325.44"/>
<use href="#hx" x="614.35" y="443.88"/>
<use href="#hx" x="614.35" y="470.2"/>
<use href="#hx" x="614.35" y="483.36"/>
<use href="#hx" x="614.35" y="496.52"/>
<use href="#hx" x="614.35" y="509.68"/>
<use href="#hx" x="625.74" y="305.7"/>
<use href="#hx" x="625.74" y="424.14"/>
<use href="#hx" x="625.74" y="437.3"/>
<use href="#hx" x="625.74" y="450.46"/>
<use href="#hx" x="625.74" y="463.62"/>
<use href="#hx" x="625.74" y="476.78"/>
<use href="#hx" x="625.74" y="489.94"/>
<use href="#hx" x="625.74" y="503.1"/>
<use href="#hx" x="625.74" y="516.26"/>
<use href="#hx" x="625.74" y="529.42"/>
<use href="#hx" x="637.13" y="285.96"/>
<use href="#hx" x="637.13" y="299.12"/>
<use href="#hx" x="637.13" y="312.28"/>
<use href="#hx" x="637.13" y="430.72"/>
<use href="#hx" x="637.13" y="443.88"/>
<use href="#hx" x="637.13" y="457.04"/>
<use href="#hx" x="637.13" y="470.2"/>
<use href="#hx" x="637.13" y="496.52"/>
<use href="#hx" x="637.13" y="509.68"/>
<use href="#hx" x="648.52" y="292.54"/>
<use href="#hx" x="648.52" y="305.7"/>
<use href="#hx" x="648.52" y="450.46"/>
<use href="#hx" x="648.52" y="463.62"/>
<use href="#hx" x="648.52" y="476.78"/>
<use href="#hx" x="659.91" y="299.12"/>
<use href="#hx" x="659.91" y="707.08"/>
<use href="#hx" x="671.3" y="279.38"/>
<use href="#hx" x="671.3" y="582.06"/>
<use href="#hx" x="671.3" y="713.66"/>
<use href="#hx" x="682.69" y="720.24"/>
<use href="#hx" x="694.08" y="753.14"/>
<use href="#hx" x="716.86" y="647.86"/>
<use href="#hx" x="716.86" y="753.14"/>
<use href="#hx" x="716.86" y="766.3"/>
<use href="#hx" x="716.86" y="779.46"/>
<use href="#hx" x="728.25" y="470.2"/>
<use href="#hx" x="728.25" y="483.36"/>
<use href="#hx" x="728.25" y="693.92"/>
<use href="#hx" x="728.25" y="707.08"/>
<use href="#hx" x="728.25" y="746.56"/>
<use href="#hx" x="728.25" y="759.72"/>
<use href="#hx" x="728.25" y="772.88"/>
<use href="#hx" x="739.64" y="700.5"/>
<use href="#hx" x="739.64" y="713.66"/>
<use href="#hx" x="739.64" y="753.14"/>
<use href="#hx" x="739.64" y="766.3"/>
<use href="#hx" x="751.03" y="628.12"/>
<use href="#hx" x="751.03" y="693.92"/>
<use href="#hx" x="751.03" y="707.08"/>
<use href="#hx" x="762.42" y="608.38"/>
<use href="#hx" x="762.42" y="713.66"/>
<use href="#hx" x="762.42" y="779.46"/>
<use href="#hx" x="773.81" y="720.24"/>
<use href="#hx" x="773.81" y="786.04"/>
<use href="#hx" x="785.2" y="779.46"/>
<use href="#hx" x="785.2" y="792.62"/>
<use href="#hx" x="796.59" y="786.04"/>
<use href="#hx" x="819.37" y="680.76"/>
<use href="#hx" x="842.15" y="680.76"/>
<use href="#hx" x="842.15" y="693.92"/>
<use href="#hx" x="842.15" y="707.08"/>
<use href="#hx" x="842.15" y="720.24"/>
<use href="#hx" x="842.15" y="733.4"/>
<use href="#hx" x="842.15" y="746.56"/>
<use href="#hx" x="853.54" y="661.02"/>
<use href="#hx" x="853.54" y="674.18"/>
<use href="#hx" x="853.54" y="687.34"/>
<use href="#hx" x="853.54" y="700.5"/>
<use href="#hx" x="853.54" y="713.66"/>
<use href="#hx" x="853.54" y="726.82"/>
<use href="#hx" x="864.93" y="641.28"/>
<use href="#hx" x="864.93" y="654.44"/>
<use href="#hx" x="864.93" y="667.6"/>
<use href="#hx" x="864.93" y="680.76"/>
<use href="#hx" x="864.93" y="693.92"/>
<use href="#hx" x="864.93" y="707.08"/>
<use href="#hx" x="864.93" y="720.24"/>
<use href="#hx" x="876.32" y="647.86"/>
<use href="#hx" x="876.32" y="661.02"/>
<use href="#hx" x="876.32" y="674.18"/>
<use href="#hx" x="876.32" y="687.34"/>
<use href="#hx" x="876.32" y="700.5"/>
<use href="#hx" x="887.71" y="628.12"/>
<use href="#hx" x="887.71" y="641.28"/>
<use href="#hx" x="887.71" y="654.44"/>
<use href="#hx" x="887.71" y="667.6"/>
<use href="#hx" x="887.71" y="680.76"/>
<use href="#hx" x="887.71" y="693.92"/>
<use href="#hx" x="887.71" y="707.08"/>
<use href="#hx" x="887.71" y="746.56"/>
<use href="#hx" x="899.1" y="621.54"/>
<use href="#hx" x="899.1" y="634.7"/>
<use href="#hx" x="899.1" y="674.18"/>
<use href="#hx" x="899.1" y="687.34"/>
<use href="#hx" x="899.1" y="700.5"/>
<use href="#hx" x="899.1" y="713.66"/>
<use href="#hx" x="899.1" y="726.82"/>
<use href="#hx" x="899.1" y="739.98"/>
<use href="#hx" x="910.49" y="614.96"/>
<use href="#hx" x="910.49" y="628.12"/>
<use href="#hx" x="910.49" y="641.28"/>
<use href="#hx" x="910.49" y="667.6"/>
<use href="#hx" x="910.49" y="680.76"/>
<use href="#hx" x="921.88" y="595.22"/>
<use href="#hx" x="933.27" y="667.6"/>
<use href="#hx" x="944.66" y="397.82"/>
<use href="#hx" x="956.05" y="404.4"/>
<use href="#hx" x="956.05" y="628.12"/>
<use href="#hx" x="956.05" y="641.28"/>
<use href="#hx" x="967.44" y="397.82"/>
<use href="#hx" x="967.44" y="410.98"/>
<use href="#hx" x="967.44" y="582.06"/>
<use href="#hx" x="967.44" y="608.38"/>
<use href="#hx" x="967.44" y="634.7"/>
<use href="#hx" x="967.44" y="647.86"/>
<use href="#hx" x="978.83" y="404.4"/>
<use href="#hx" x="978.83" y="430.72"/>
<use href="#hx" x="978.83" y="575.48"/>
<use href="#hx" x="978.83" y="628.12"/>
<use href="#hx" x="990.22" y="384.66"/>
<use href="#hx" x="990.22" y="410.98"/>
<use href="#hx" x="990.22" y="424.14"/>
<use href="#hx" x="990.22" y="582.06"/>
<use href="#hx" x="990.22" y="661.02"/>
<use href="#hx" x="1001.61" y="351.76"/>
<use href="#hx" x="1001.61" y="378.08"/>
<use href="#hx" x="1001.61" y="391.24"/>
<use href="#hx" x="1001.61" y="404.4"/>
<use href="#hx" x="1001.61" y="417.56"/>
<use href="#hx" x="1001.61" y="430.72"/>
<use href="#hx" x="1001.61" y="443.88"/>
<use href="#hx" x="1001.61" y="457.04"/>
<use href="#hx" x="1013" y="345.18"/>
<use href="#hx" x="1013" y="358.34"/>
<use href="#hx" x="1013" y="371.5"/>
<use href="#hx" x="1013" y="384.66"/>
<use href="#hx" x="1013" y="410.98"/>
<use href="#hx" x="1013" y="424.14"/>
<use href="#hx" x="1013" y="437.3"/>
<use href="#hx" x="1013" y="450.46"/>
<use href="#hx" x="1013" y="595.22"/>
<use href="#hx" x="1024.39" y="364.92"/>
<use href="#hx" x="1024.39" y="378.08"/>
<use href="#hx" x="1024.39" y="391.24"/>
<use href="#hx" x="1024.39" y="404.4"/>
<use href="#hx" x="1024.39" y="430.72"/>
<use href="#hx" x="1024.39" y="443.88"/>
<use href="#hx" x="1035.78" y="345.18"/>
<use href="#hx" x="1035.78" y="371.5"/>
<use href="#hx" x="1035.78" y="384.66"/>
<use href="#hx" x="1035.78" y="397.82"/>
<use href="#hx" x="1047.17" y="338.6"/>
<use href="#hx" x="1047.17" y="378.08"/>
<use href="#hx" x="1047.17" y="391.24"/>
<use href="#hx" x="1047.17" y="404.4"/>
<use href="#hx" x="1047.17" y="417.56"/>
<use href="#hx" x="1058.56" y="410.98"/>
<use href="#hx" x="1126.9" y="516.26"/>
<use href="#hx" x="1126.9" y="529.42"/>
<use href="#hx" x="1138.29" y="536"/>
<use href="#hx" x="1195.24" y="568.9"/>
<use href="#hx" x="1195.24" y="582.06"/>
<use href="#hx" x="1206.63" y="575.48"/>
<use href="#hx" x="1263.58" y="529.42"/>
</g>
<g fill="#8560ad">
<use href="#hx" x="557.4" y="437.3"/>
<use href="#hx" x="557.4" y="450.46"/>
<use href="#hx" x="568.79" y="430.72"/>
<use href="#hx" x="568.79" y="443.88"/>
<use href="#hx" x="568.79" y="457.04"/>
<use href="#hx" x="580.18" y="450.46"/>
<use href="#hx" x="591.57" y="457.04"/>
<use href="#hx" x="602.96" y="424.14"/>
<use href="#hx" x="602.96" y="437.3"/>
<use href="#hx" x="602.96" y="450.46"/>
<use href="#hx" x="602.96" y="463.62"/>
<use href="#hx" x="614.35" y="430.72"/>
<use href="#hx" x="614.35" y="457.04"/>
<use href="#hx" x="671.3" y="292.54"/>
<use href="#hx" x="682.69" y="285.96"/>
<use href="#hx" x="682.69" y="693.92"/>
<use href="#hx" x="682.69" y="707.08"/>
<use href="#hx" x="694.08" y="279.38"/>
<use href="#hx" x="705.47" y="654.44"/>
<use href="#hx" x="716.86" y="595.22"/>
<use href="#hx" x="739.64" y="621.54"/>
<use href="#hx" x="762.42" y="621.54"/>
<use href="#hx" x="796.59" y="628.12"/>
<use href="#hx" x="819.37" y="338.6"/>
<use href="#hx" x="933.27" y="536"/>
<use href="#hx" x="933.27" y="680.76"/>
<use href="#hx" x="944.66" y="674.18"/>
<use href="#hx" x="956.05" y="667.6"/>
<use href="#hx" x="967.44" y="661.02"/>
<use href="#hx" x="978.83" y="654.44"/>
<use href="#hx" x="978.83" y="667.6"/>
<use href="#hx" x="990.22" y="476.78"/>
<use href="#hx" x="990.22" y="674.18"/>
<use href="#hx" x="1092.73" y="614.96"/>
<use href="#hx" x="1104.12" y="608.38"/>
<use href="#hx" x="1138.29" y="509.68"/>
<use href="#hx" x="1138.29" y="522.84"/>
<use href="#hx" x="1149.68" y="476.78"/>
</g>
<g fill="#4b5a9f">
<use href="#hx" x="591.57" y="443.88"/>
<use href="#hx" x="716.86" y="608.38"/>
<use href="#hx" x="728.25" y="601.8"/>
<use href="#hx" x="739.64" y="608.38"/>
<use href="#hx" x="751.03" y="614.96"/>
<use href="#hx" x="921.88" y="542.58"/>
</g>
<g fill="#8fd8d8">
<use href="#hx" x="682.69" y="654.44"/>
<use href="#hx" x="739.64" y="595.22"/>
<use href="#hx" x="819.37" y="285.96"/>
<use href="#hx" x="819.37" y="299.12"/>
<use href="#hx" x="830.76" y="292.54"/>
<use href="#hx" x="830.76" y="489.94"/>
<use href="#hx" x="842.15" y="430.72"/>
<use href="#hx" x="842.15" y="443.88"/>
<use href="#hx" x="842.15" y="457.04"/>
<use href="#hx" x="842.15" y="470.2"/>
<use href="#hx" x="853.54" y="437.3"/>
<use href="#hx" x="853.54" y="476.78"/>
<use href="#hx" x="853.54" y="489.94"/>
<use href="#hx" x="864.93" y="457.04"/>
<use href="#hx" x="864.93" y="470.2"/>
<use href="#hx" x="864.93" y="483.36"/>
<use href="#hx" x="864.93" y="496.52"/>
</g>
<g fill="#ffffff">
<use href="#hx" x="1354.7" y="503.1"/>
</g>
<g fill="none" stroke="#080808" stroke-width="1.3" stroke-linejoin="round">
<use href="#zz" x="132.17" y="174.1"/>
<use href="#zz" x="143.56" y="167.52"/>
<use href="#zz" x="154.95" y="174.1"/>
<use href="#zz" x="166.34" y="167.52"/>
<use href="#zz" x="177.73" y="174.1"/>
<use href="#zz" x="189.12" y="167.52"/>
<use href="#zz" x="200.51" y="174.1"/>
<use href="#zz" x="211.9" y="167.52"/>
<use href="#zz" x="223.29" y="174.1"/>
<use href="#zz" x="234.68" y="167.52"/>
<use href="#zz" x="246.07" y="174.1"/>
<use href="#zz" x="257.46" y="167.52"/>
<use href="#zz" x="268.85" y="174.1"/>
<use href="#zz" x="280.24" y="167.52"/>
<use href="#zz" x="291.63" y="174.1"/>
<use href="#zz" x="303.02" y="167.52"/>
<use href="#zz" x="314.41" y="174.1"/>
<use href="#zz" x="325.8" y="167.52"/>
<use href="#zz" x="337.19" y="174.1"/>
<use href="#zz" x="348.58" y="167.52"/>
<use href="#zz" x="359.97" y="174.1"/>
<use href="#zz" x="371.36" y="167.52"/>
<use href="#zz" x="382.75" y="174.1"/>
<use href="#zz" x="394.14" y="167.52"/>
<use href="#zz" x="405.53" y="174.1"/>
<use href="#zz" x="416.92" y="167.52"/>
<use href="#zz" x="428.31" y="174.1"/>
<use href="#zz" x="439.7" y="167.52"/>
<use href="#zz" x="451.09" y="174.1"/>
<use href="#zz" x="462.48" y="167.52"/>
<use href="#zz" x="473.87" y="174.1"/>
<use href="#zz" x="485.26" y="167.52"/>
<use href="#zz" x="496.65" y="174.1"/>
<use href="#zz" x="508.04" y="167.52"/>
<use href="#zz" x="519.43" y="174.1"/>
<use href="#zz" x="530.82" y="167.52"/>
<use href="#zz" x="542.21" y="174.1"/>
<use href="#zz" x="553.6" y="167.52"/>
<use href="#zz" x="564.99" y="174.1"/>
<use href="#zz" x="576.38" y="167.52"/>
<use href="#zz" x="587.77" y="174.1"/>
<use href="#zz" x="599.16" y="167.52"/>
<use href="#zz" x="610.55" y="174.1"/>
<use href="#zz" x="621.94" y="167.52"/>
<use href="#zz" x="633.33" y="174.1"/>
<use href="#zz" x="644.72" y="167.52"/>
<use href="#zz" x="656.11" y="174.1"/>
<use href="#zz" x="667.5" y="167.52"/>
<use href="#zz" x="678.89" y="174.1"/>
<use href="#zz" x="690.28" y="167.52"/>
<use href="#zz" x="701.67" y="174.1"/>
<use href="#zz" x="713.06" y="167.52"/>
<use href="#zz" x="724.45" y="174.1"/>
<use href="#zz" x="735.84" y="167.52"/>
<use href="#zz" x="747.23" y="174.1"/>
<use href="#zz" x="758.62" y="167.52"/>
<use href="#zz" x="770.01" y="174.1"/>
<use href="#zz" x="781.4" y="167.52"/>
<use href="#zz" x="792.79" y="174.1"/>
<use href="#zz" x="804.18" y="167.52"/>
<use href="#zz" x="815.57" y="174.1"/>
<use href="#zz" x="826.96" y="167.52"/>
<use href="#zz" x="838.35" y="174.1"/>
<use href="#zz" x="849.74" y="167.52"/>
<use href="#zz" x="861.13" y="174.1"/>
<use href="#zz" x="872.52" y="167.52"/>
<use href="#zz" x="883.91" y="174.1"/>
<use href="#zz" x="895.3" y="167.52"/>
<use href="#zz" x="906.69" y="174.1"/>
<use href="#zz" x="918.08" y="167.52"/>
<use href="#zz" x="929.47" y="174.1"/>
<use href="#zz" x="940.86" y="167.52"/>
<use href="#zz" x="952.25" y="174.1"/>
<use href="#zz" x="963.64" y="167.52"/>
<use href="#zz" x="975.03" y="174.1"/>
<use href="#zz" x="986.42" y="167.52"/>
<use href="#zz" x="997.81" y="174.1"/>
<use href="#zz" x="1009.2" y="167.52"/>
<use href="#zz" x="1020.59" y="174.1"/>
<use href="#zz" x="1031.98" y="167.52"/>
<use href="#zz" x="1043.37" y="174.1"/>
<use href="#zz" x="1054.76" y="167.52"/>
<use href="#zz" x="1066.15" y="174.1"/>
<use href="#zz" x="1077.54" y="167.52"/>
<use href="#zz" x="1088.93" y="174.1"/>
<use href="#zz" x="1100.32" y="167.52"/>
<use href="#zz" x="1111.71" y="174.1"/>
<use href="#zz" x="1123.1" y="167.52"/>
<use href="#zz" x="1134.49" y="174.1"/>
<use href="#zz" x="1145.88" y="167.52"/>
<use href="#zz" x="1157.27" y="174.1"/>
<use href="#zz" x="1168.66" y="167.52"/>
<use href="#zz" x="1180.05" y="174.1"/>
<use href="#zz" x="1191.44" y="167.52"/>
<use href="#zz" x="1202.83" y="174.1"/>
<use href="#zz" x="1214.22" y="167.52"/>
<use href="#zz" x="1225.61" y="174.1"/>
<use href="#zz" x="1237" y="167.52"/>
<use href="#zz" x="1248.39" y="174.1"/>
<use href="#zz" x="1259.78" y="167.52"/>
<use href="#zz" x="1271.17" y="174.1"/>
<use href="#zz" x="1282.56" y="167.52"/>
<use href="#zz" x="1293.95" y="174.1"/>
<use href="#zz" x="1305.34" y="167.52"/>
<use href="#zz" x="1316.73" y="174.1"/>
<use href="#zz" x="1328.12" y="167.52"/>
<use href="#zz" x="1339.51" y="174.1"/>
<use href="#zz" x="1350.9" y="167.52"/>
<use href="#zz" x="1362.29" y="174.1"/>
<use href="#zz" x="1373.68" y="167.52"/>
<use href="#zz" x="1385.07" y="174.1"/>
<use href="#zz" x="1396.46" y="167.52"/>
<use href="#zz" x="1407.85" y="174.1"/>
<use href="#zz" x="1419.24" y="167.52"/>
<use href="#zz" x="1430.63" y="174.1"/>
<use href="#zz" x="1442.02" y="167.52"/>
<use href="#zz" x="1453.41" y="174.1"/>
</g>
</g>

<path d="M320 380L325 372.5L333.75 367.5L338.75 358.75L345 352.5L346.25 340L352.5 333.75L351.25 327.5L357.5 317.5L363.75 310L373.75 309.5L386.25 302.5L402.5 297L420 287.5L427.5 278.75L446.25 261.25L460 251.25L475 246.25L495 244.5L513.75 246.25L520 255L532.5 263.75L539.5 272.5L541.25 280L552.5 280L552.5 260L562.5 260L585 266.25L595 267.5L605 264.5L622.5 264.5L625 257.5L632.5 252.5L630 241.25L633 252L652.5 242.5L670 232.5L687.5 217.5L702.5 207.5L717.5 198L712.5 198.75L725 193L746.25 190.5L770 188.12L778.75 190.62L781.5 193.75L784.5 194.5L781.5 195.5L777 202L774.5 204.5L776.75 206.5L779 203.5L781.5 200L785.5 198L787 200L790 202L791 204L792 209.5L800 194.5L820 206.88L815 218.75L816.88 218.75L823.75 206.88L828.12 205L847.5 212.5L866.25 221.88L887.5 231.25L890.62 234.38L888.12 238.12L881.88 240.62L883.75 246.25L891.25 265L898.75 275L905 287.5L910 293.12L911.88 296.25L909.38 301.25L910 298.75L905 304.38L896.25 310.62L889.38 316.25L890 318.12L905 323.75L910 321.88L918.75 320L922.5 321.88L926.25 320L923.75 316.25L925.62 310.62L930 306.25L936.25 302.5L943.75 300.25L951.25 301.5L960 305.62L975 316.25L988.75 324.38L1000 330.62L1004.38 333.75L1005.62 338.75L1005 345L1003.12 348.12L1006.25 349.38L1012.5 342.5L1020 336.88L1030 333.12L1035 334.38L1038.12 331.88L1046.25 331L1051.25 333.75L1053.75 341.25L1057.5 345L1060.62 343.75L1067.5 349.38L1068.75 353.75L1075 356.25L1080 360L1067.5 353.75L1080 360L1090 371.25L1102.5 383.75L1101.25 392.5L1112.5 390L1120 397.5L1126.25 405L1122.5 411.25L1131.25 407.5L1140 417.5L1137.5 425L1146.25 432.5L1160 442.5L1175 447.5L1187.5 448.75L1202.5 446.25L1210 450L1211.25 442.5L1220 435L1226.25 427.5L1232.5 420L1240 415.5L1251.25 414.5L1253.75 412L1267.5 412.5L1282.5 415.5L1295 421.25L1303.75 427.5L1307.5 435L1312.5 442.5L1320 460L1325 470L1331.25 471.25L1331.25 473.75L1325.5 474.5L1324.5 480L1335 483L1342.5 481.25L1360 487.5L1382.5 497.5L1402.5 510L1420 522.5L1430 535L1432.5 540L1429.5 542.5L1427.5 539.5L1428.75 535.5L1420 526.25L1410 518.75L1401.25 514.5L1397.5 516.25L1400 522.5L1392.5 537.5L1393.75 540L1383.75 561.25L1376.25 577.5L1370 592.5L1366.25 603.75L1366.88 611.25L1371.25 613.75L1400.62 612.75L1401.25 631.88L1403.12 633.75L1401.88 636.88L1391.25 637.5L1390.62 625L1372.5 625.62L1371.25 638.12L1352.5 638.12L1337.5 640.62L1330 646.25L1321.25 652.5L1311.25 654.75L1302.5 653.12L1292.5 647.5L1281.25 643.12L1258.75 649.75L1261.88 643.75L1259.38 636.25L1252.5 636.25L1240 638.12L1200 641.88L1190 645.62L1172.5 651.25L1150 657.5L1131.25 663.75L1110 669.38L1095 673.75L1077.5 678.75L1060 683.12L1041.25 688.12L1018.75 695L1000 701.25L1000 701.25L982.5 712.5L970 720L960 728.75L947.5 738.75L943.75 741.25L940 738.75L947.5 738.75L945 740.62L940 739.38L936.25 736.88L931.88 742.5L930.62 747.5L926.25 753.75L915 762.5L905 770L898.75 776.25L897.5 778.12L900.62 785L898.5 786.5L895 780L890 783.12L885 784.38L880 781.25L873.75 777.5L871.25 782.5L872.5 788.75L870 791.25L872.5 796.88L870 798.5L866.5 793.12L863.75 791.25L858.12 785L854.38 781.25L851.25 783.75L856.25 793.75L854.38 795.62L851.25 792.5L845 785L840 780L827.5 778.12L827.5 778.12L813.75 780L802.5 785.62L790.62 791.88L790.62 808.75L788.75 808.75L788.75 791.88L780 791.25L772.5 787.5L767.5 786.25L762.5 787.5L758.75 784.38L755 782.25L750 785L746.25 783.75L741.25 785.62L737.5 788.75L735 793.12L730 786.25L722.5 780.62L717.5 778.75L716.25 781.25L710 776.88L703.75 774.38L691.25 791.25L677.5 815L660 805.62L680 763.12L652.5 747.5L635 775.62L573.75 740L583.75 726.25L592.5 725.62L633.12 744.38L638.75 732.5L605.62 710.62L610 702.5L598.75 688.12L590 692.5L576.25 693.75L563.75 691.25L555.62 686.88L558.75 681.25L551.88 683.12L545.62 687.5L540 685.62L530 683.75L514.38 680.62L508.75 683.12L498.75 680L488.75 672.5L478.75 665L471.25 661.88L463.75 661.25L467.5 665.62L475 669.38L488.75 682.5L493.12 685L462.12 685L462.12 708.12L460 708.12L460 661.88L460 658.75L455 661.88L451.25 663.12L452.25 668.75L450 672.5L449.38 678.12L435 678.5L434.75 673.12L430 671.88L424.38 668.12L418.75 663.75L415 661.88L411.25 663.75L409.38 668.12L410 675L408.75 681.25L398.75 684.38L387.5 685.62L380 686.88L380 686.88L378.75 675L376.25 658.75L371.88 658.12L373.12 675L375 687.5L363.75 693.75L350 677.5L346.25 665L337.5 666.88L336.88 675L338.75 685L352.5 698.75L328.75 716.88L325 711.25L307.5 698.75L306.25 695L301.25 695.62L298.12 693.12L300 690L290 681.25L286.25 686.25L281.25 678.75L291.25 670L302.5 655L299.38 651.88L291.25 660L281.25 668.12L271.25 659.38L272.5 655L287.5 640.62L281.25 635L270 644.38L261.25 651.25L255 646.25L246.25 638.75L236.25 649.38L250 662.5L267.5 682.5L266.25 682.5L270 700L275 715L281.25 727.5L281.25 735L277.5 741.25L270 745L253.75 745.62L251.88 755L251.25 771.25L261.25 771.88L261.88 798.12L261.88 798.5L185.62 798.5L185.62 818.12L264.38 818.5L264.38 836.25L245.62 844.62L185.62 844.62L185.62 864L280.62 864.38L280.62 890.38L185.62 890.62L185.62 911.88L185.62 911.88L301.25 912.25L306 925L265 942.5L258.75 944.38L252.5 943.12L165 920.62L156.25 916.88L153.12 912.5L154.95 911.06L151.16 904.48L154.95 897.9L151.16 891.32L154.95 884.74L151.16 878.16L154.95 871.58L151.16 865L154.95 858.42L151.16 851.84L152.5 848.75L170.62 848.12L171.25 840.62L160.62 840.25L160.62 821.25L169.38 820.62L170 813.12L163.75 812.5L163.12 800L151.88 799.75L154.38 793.75L151.88 800L165 760L169.38 750L173.75 746.25L182.5 742.5L190 736.25L193.12 730L193.12 720L190 711.25L188.12 703.75L185.62 700L186.25 695L188.12 692.75L201.25 660L217.5 620L230 580L236.25 560L240 552.5L236.25 545L237.5 536.25L245 532.5L251.25 527.5L252.5 516.25L265 500L272.5 485L280 470L290 462.5L300 445L310 435L312.5 425L315 412.5L315 400L320 390ZM888.75 243.75L896.25 240.25L901.25 241.25L908.12 250L922.5 266.25L931.88 275.62L933.12 280L930 286.25L922.5 290L916.25 290.62L909.38 286.25L901.25 275L895 266.25L888.75 247.5ZM291.88 763.75L306.25 752.5L313.12 758.75L332.5 746.25L355 730.62L370 721.25L383.75 713.12L400 711L417.5 710L416.25 713.75L405 727.5L400 736.25L391.25 745L383.75 750.62L392.5 763.75L405 751.88L408.75 753.12L415 750L416.88 746.25L415 743.12L416.25 737.5L423.75 730.62L427.5 723.75L438.75 711.25L443.12 710L445 706.88L452.5 705.25L461.25 707.5L465 709.38L473.75 710.62L478.75 711.25L480 707.5L485 710L490 709.38L496.25 713.12L501.25 717.5L505 726.25L507.5 731.25L513.75 739.38L518.75 741.25L520 745L528.75 746.88L536.25 752.5L545 761.25L543.12 765L536.25 770L523.75 773.12L523.75 777.5L518.75 788.75L515 795.62L493.75 803.75L490 801.25L460 781.25L457.5 775L453.75 780L448.75 777.5L445 776.25L441.88 783.12L467.5 800L468.12 803.12L451.25 812.5L432.5 821.25L447.5 815L425 823.75L410 828.75L402.5 800L400 792.5L383.75 778.12L370 791.25L386.25 807.5L387.5 808.75L392.5 828.75L399.38 851.25L399.38 860L392.5 868.12L389.38 865L387.5 867.5L377.5 880L377.5 883.12L370 890L353.75 907.75L348.75 910L344.38 907.75L340 900L338.5 892.5L340.25 899.75L345.25 906L358.75 896.25L356.25 887.5L351.25 880L346.25 874.38L336.25 873.75L318.75 843.75L308.75 817.5L301.25 800L292.5 777.5ZM416.25 665L420 670L425 676.25L425.25 685L416.88 685.25L414.38 680L411.25 670L413.12 666.25ZM791.25 800.62L798.75 795L808.75 790L825 789.38L831.25 793.75L844.38 806.25L835 811.25L826.25 815.62L817.5 812.5L811.25 809.38L801.25 810L793.75 806.25L790.62 801.88ZM740 801.25L747.5 800L758.75 801.88L763.75 802.5L772.5 800L780 803.75L788.75 808.12L791.25 812.5L797.5 815.62L810 815L818.75 818.12L827.5 820L832.5 817.5L841.25 819.38L843.75 823.12L853.75 820L861.88 823.12L858.12 830L852.5 840L843.75 850L836.25 857.5L826.25 862.5L816.25 865.62L810 862.5L801.25 853.75L790 842.5L780 832.5L768.75 825L760 820L750 812.5Z" fill="none" stroke="#080808" stroke-width="1.25" stroke-linejoin="round"/>

<path d="M789.7 791.5V810.5" stroke="#000" stroke-width="3" fill="none"/>
<use href="#jc" x="684.75" y="305"/>
<use href="#jc" x="809" y="321.9"/>
<use href="#jc" x="585" y="435.6"/>
<use href="#jc" x="853.5" y="453"/>
<use href="#jc" x="834" y="500"/>
<use href="#jc" x="976" y="494"/>
<use href="#jc" x="1123.75" y="461.25"/>
<use href="#jc" x="1175.6" y="516.25"/>
<use href="#jc" x="467.5" y="533.75"/>
<use href="#jc" x="915.6" y="534.4"/>
<use href="#jc" x="846.9" y="549.4"/>
<use href="#jc" x="905.6" y="590.6"/>
<use href="#jc" x="732.25" y="592.5"/>
<use href="#jc" x="730" y="608.75"/>
<use href="#jc" x="802.5" y="613"/>
<use href="#jc" x="823" y="610"/>
<use href="#jc" x="1114.5" y="630.5"/>
<use href="#jc" x="1070.6" y="665.6"/>
<use href="#jc" x="960.6" y="683.75"/>
<use href="#jc" x="678" y="676"/>
<!-- title -->
<text y="114" font-size="42" xml:space="default"><tspan x="205.2" textLength="150.0" lengthAdjust="spacingAndGlyphs">Walking</tspan> <tspan x="370.2" textLength="71.0" lengthAdjust="spacingAndGlyphs">and</tspan> <tspan x="455.2" textLength="82.0" lengthAdjust="spacingAndGlyphs">MRT</tspan> <tspan x="555.2" textLength="226.0" lengthAdjust="spacingAndGlyphs">Accessibility</tspan> <tspan x="801.2" textLength="40.0" lengthAdjust="spacingAndGlyphs">to</tspan> <tspan x="853.2" textLength="118.0" lengthAdjust="spacingAndGlyphs">Junior</tspan> <tspan x="984.2" textLength="157.0" lengthAdjust="spacingAndGlyphs">Colleges</tspan> <tspan x="1157.2" textLength="120.0" lengthAdjust="spacingAndGlyphs">Before</tspan> <tspan x="1293.2" textLength="136.0" lengthAdjust="spacingAndGlyphs">Merger</tspan></text>
<!-- north arrow -->
<defs><pattern id="hatch" width="1.6" height="1.6" patternUnits="userSpaceOnUse"><rect width="1.6" height="1.6" fill="#fff"/><rect width="1.6" height="0.8" fill="#c4c4c4"/></pattern></defs>
<path d="M507.4 952.5L473.6 1041L507.4 1006.8Z" fill="url(#hatch)"/>
<clipPath id="arc"><rect x="460" y="940" width="100" height="101.8"/></clipPath><path clip-path="url(#arc)" d="M507.4 953.5L474 1042L507.4 1007.6L541 1042Z" fill="none" stroke="#000" stroke-width="2.5" stroke-linejoin="miter" stroke-miterlimit="10"/>
<path d="M507.4 960V1006" stroke="#999" stroke-width="0.5"/>
<!-- scale bar -->
<rect x="382.4" y="1076.1" width="264.3" height="16.2" fill="#fff" stroke="#000" stroke-width="1.2"/>
<rect x="382.3" y="1076" width="133" height="16.3" fill="#000"/>
<text x="383.4" y="1059.9" font-size="21.5" text-anchor="middle">0</text>
<text x="514.8" y="1059.9" font-size="21.5" text-anchor="middle">5</text>
<text x="636.3" y="1059.9" font-size="21.5" textLength="59" lengthAdjust="spacingAndGlyphs">10 km</text>
<!-- legend -->
<use href="#jc" x="1207.3" y="733.5"/>
<text y="741.6" font-size="20" xml:space="default"><tspan x="1236.6" textLength="24.2" lengthAdjust="spacingAndGlyphs">JC</tspan> <tspan x="1267.2" textLength="64.0" lengthAdjust="spacingAndGlyphs">before</tspan> <tspan x="1337.8" textLength="72.4" lengthAdjust="spacingAndGlyphs">merger</tspan></text>
<text y="784.2" font-size="25.5" xml:space="default"><tspan x="1127.4" textLength="147.8" lengthAdjust="spacingAndGlyphs">Accessibility</tspan> <tspan x="1283.2" textLength="25.0" lengthAdjust="spacingAndGlyphs">to</tspan> <tspan x="1317.7" textLength="30.5" lengthAdjust="spacingAndGlyphs">JC</tspan> <tspan x="1356.2" textLength="80.0" lengthAdjust="spacingAndGlyphs">before</tspan> <tspan x="1445.7" textLength="89.5" lengthAdjust="spacingAndGlyphs">merger</tspan></text>
<g shape-rendering="crispEdges">
<rect x="1233.3" y="809.8" width="56" height="55.6" fill="#ae5a9f"/><rect x="1288.5" y="809.8" width="56.4" height="55.6" fill="#7f599b"/><rect x="1344.2" y="809.8" width="58.4" height="55.6" fill="#434b84"/>
<rect x="1233.3" y="865" width="56" height="56.6" fill="#cba0c6"/><rect x="1288.5" y="865" width="56.4" height="56.6" fill="#989dc1"/><rect x="1344.2" y="865" width="58.4" height="56.6" fill="#528aa8"/>
<rect x="1233.3" y="921.2" width="56" height="57.6" fill="#d3d3d3"/><rect x="1288.5" y="921.2" width="56.4" height="57.6" fill="#9bcfcf"/><rect x="1344.2" y="921.2" width="58.4" height="57.6" fill="#53b7b5"/>
</g>
<text x="1152.9" y="837.8" font-size="20" textLength="70.1" lengthAdjust="spacingAndGlyphs">0 - 3 km</text>
<text x="1121" y="901.6" font-size="20" textLength="102" lengthAdjust="spacingAndGlyphs">3 km - 6 km</text>
<text x="1163.5" y="958.3" font-size="20" textLength="59.5" lengthAdjust="spacingAndGlyphs">&gt; 6 km</text>
<text y="903" font-size="23" xml:space="default"><tspan x="910.9" textLength="42.3" lengthAdjust="spacingAndGlyphs">MRT</tspan> <tspan x="962.9" textLength="61.3" lengthAdjust="spacingAndGlyphs">Travel</tspan> <tspan x="1032.0" textLength="85.9" lengthAdjust="spacingAndGlyphs">Distance</tspan></text>
<text transform="translate(1253.5 984) rotate(90)" font-size="20" textLength="68.3" lengthAdjust="spacingAndGlyphs">0 - 1 km</text>
<text transform="translate(1313.9 984) rotate(90)" font-size="20" textLength="98" lengthAdjust="spacingAndGlyphs">1 km - 2 km</text>
<text transform="translate(1368.1 982) rotate(90)" font-size="20" textLength="57" lengthAdjust="spacingAndGlyphs">&gt; 2 km</text>
<text y="1115.3" font-size="22.5" xml:space="default"><tspan x="1198.1" textLength="79.4" lengthAdjust="spacingAndGlyphs">Walking</tspan> <tspan x="1284.2" textLength="62.4" lengthAdjust="spacingAndGlyphs">Travel</tspan> <tspan x="1354.2" textLength="86.0" lengthAdjust="spacingAndGlyphs">Distance</tspan></text>

</svg>
</body></html>
